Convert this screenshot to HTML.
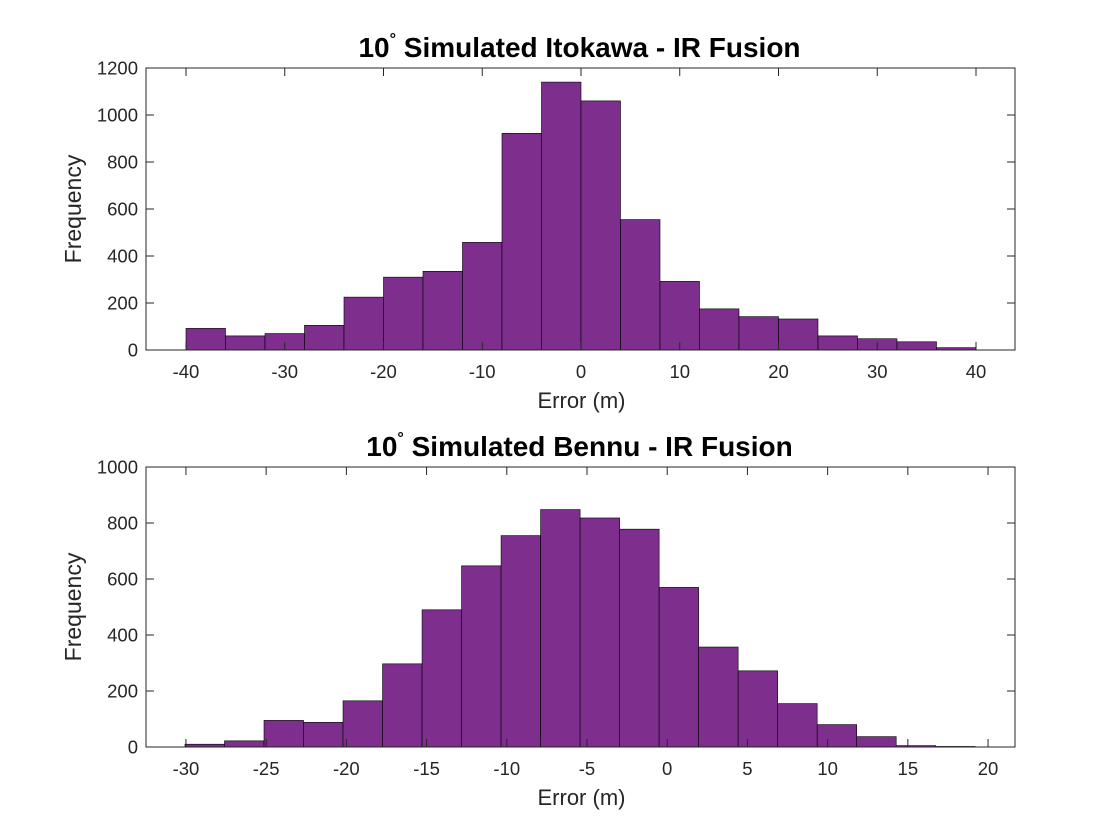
<!DOCTYPE html>
<html><head><meta charset="utf-8"><style>
body{margin:0;background:#fff;}
svg{display:block;font-family:"Liberation Sans",Arial,sans-serif;}
</style></head><body>
<svg id="chart" width="1120" height="840"></svg>
<script>
const topEdgeStart = -40;
const topBinWidth = 4;
const topCounts = [92,60,70,105,225,310,335,458,922,1140,1060,555,292,175,142,132,60,48,35,10];
const topXTicks = [-40,-30,-20,-10,0,10,20,30,40];
const topYTicks = [0,200,400,600,800,1000,1200];
const botEdgeStart = -30.06;
const botBinWidth = 2.463;
const botCounts = [10,22,95,88,165,297,490,647,755,848,818,778,570,357,272,155,80,37,5,2];
const botXTicks = [-30,-25,-20,-15,-10,-5,0,5,10,15,20];
const botYTicks = [0,200,400,600,800,1000];

const NS='http://www.w3.org/2000/svg';
const svg=document.getElementById('chart');
function mk(tag,attrs,parent){const e=document.createElementNS(NS,tag);for(const k in attrs)e.setAttribute(k,attrs[k]);(parent||svg).appendChild(e);return e;}

function panel(cfg){
  const g=mk('g',{});
  
  
  const L=146,R=1015,T=cfg.top,B=cfg.bottom;
  const sx=v=>L+(v-cfg.xmin)/(cfg.xmax-cfg.xmin)*(R-L);
  const sy=v=>B-(v-cfg.ymin)/(cfg.ymax-cfg.ymin)*(B-T);
  const bg=mk('rect',{x:L,y:T,width:R-L,height:B-T,fill:'#fff'},g);
  
  
  cfg.counts.forEach((c,i)=>{
    const x0=sx(cfg.start+i*cfg.bw),x1=sx(cfg.start+(i+1)*cfg.bw);
    const r=mk('rect',{x:x0,y:sy(c),width:x1-x0,height:sy(0)-sy(c),fill:'#7E2F8E',stroke:'#000','stroke-width':0.6},g);
    
    
  });
  const box=mk('rect',{x:L,y:T,width:R-L,height:B-T,fill:'none',stroke:'#262626','stroke-width':1},g);
  
  
  cfg.xt.forEach(t=>{
    const x=sx(t);
    mk('line',{x1:x,x2:x,y1:B,y2:B-8,stroke:'#262626'},g);
    mk('line',{x1:x,x2:x,y1:T,y2:T+8,stroke:'#262626'},g);
    const tx=mk('text',{x:x,y:B+28,'text-anchor':'middle','font-size':18.5,fill:'#262626'},g);
    tx.textContent=t;
    
    
  });
  cfg.yt.forEach(t=>{
    const y=sy(t);
    mk('line',{x1:L,x2:L+8,y1:y,y2:y,stroke:'#262626'},g);
    mk('line',{x1:R,x2:R-8,y1:y,y2:y,stroke:'#262626'},g);
    const ty=mk('text',{x:L-8,y:y+6.5,'text-anchor':'end','font-size':18.5,fill:'#262626'},g);
    ty.textContent=t;
    
    
  });
  const xl=mk('text',{x:(L+R)/2+1,y:B+58,'text-anchor':'middle','font-size':22,fill:'#262626'},g);
  xl.textContent='Error (m)';
  
  
  const yl=mk('text',{x:0,y:0,'text-anchor':'middle','font-size':23,fill:'#262626',transform:`translate(81,${(T+B)/2}) rotate(-90)`},g);
  yl.textContent='Frequency';
  
  
  const ti=mk('text',{x:(L+R)/2-1,y:T-11,'text-anchor':'middle','font-size':28,'font-weight':'bold',fill:'#000'},g);
  ti.innerHTML='10<tspan dy="-13" font-size="16">°</tspan><tspan dy="13"> '+cfg.title+'</tspan>';
  
  
}
panel({name:'itokawa-panel',top:68,bottom:350,xmin:-44.05,xmax:43.95,ymin:0,ymax:1200,counts:topCounts,start:topEdgeStart,bw:topBinWidth,xt:topXTicks,yt:topYTicks,title:'Simulated Itokawa - IR Fusion'});
panel({name:'bennu-panel',top:467,bottom:747,xmin:-32.49,xmax:21.68,ymin:0,ymax:1000,counts:botCounts,start:botEdgeStart,bw:botBinWidth,xt:botXTicks,yt:botYTicks,title:'Simulated Bennu - IR Fusion'});
</script>
</body></html>
